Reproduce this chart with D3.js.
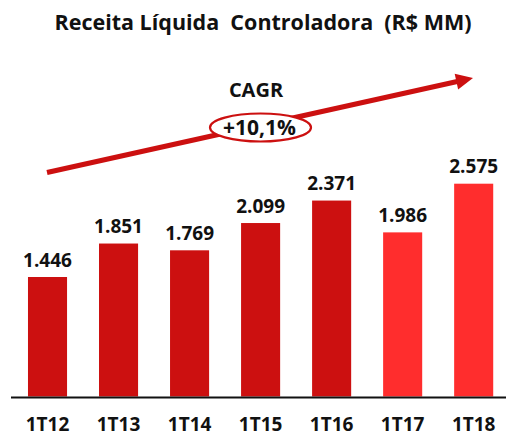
<!DOCTYPE html>
<html>
<head>
<meta charset="utf-8">
<script src="https://cdn.jsdelivr.net/npm/d3@7"></script>
<style>
  html, body { margin: 0; padding: 0; background: #fff; }
  svg text { font-family: "Open Sans", Lato, sans-serif; font-weight: bold; fill: #111; white-space: pre; }
</style>
</head>
<body>
<div id="chart"></div>
<script>
const categories = ['1T12', '1T13', '1T14', '1T15', '1T16', '1T17', '1T18'];
const values = [1446, 1851, 1769, 2099, 2371, 1986, 2575];
const valueLabels = ['1.446', '1.851', '1.769', '2.099', '2.371', '1.986', '2.575'];
const highlighted = ['1T17', '1T18'];
const titleText = 'Receita Líquida  Controladora  (R$ MM)';
const cagrLabel = 'CAGR';
const cagrValue = '+10,1%';

const width = 506;
const height = 437;
const baseline = 396.5;

const svg = d3.select('#chart').append('svg')
  .attr('width', width)
  .attr('height', height);

const x = d3.scaleBand()
  .domain(categories)
  .range([12, 509.2])
  .paddingInner(0.45)
  .paddingOuter(0.225);

const y = d3.scaleLinear()
  .domain([0, 2575])
  .range([baseline, 183.7]);

// title
svg.append('text')
  .attr('x', 263)
  .attr('y', 30)
  .attr('text-anchor', 'middle')
  .style('font-size', '21.5px')
  .text(titleText);

// bars
svg.selectAll('rect.bar')
    .data(categories)
    .enter()
  .append('rect')
    .attr('class', 'bar')
    .attr('x', d => x(d))
    .attr('y', (d, i) => y(values[i]))
    .attr('width', x.bandwidth())
    .attr('height', (d, i) => baseline - y(values[i]))
    .attr('fill', d => highlighted.includes(d) ? '#FF2D2D' : '#CC1010');

// value labels
svg.selectAll('text.value')
    .data(categories)
    .enter()
  .append('text')
    .attr('class', 'value')
    .attr('x', d => x(d) + x.bandwidth() / 2)
    .attr('y', (d, i) => y(values[i]) - 10.5)
    .attr('text-anchor', 'middle')
    .style('font-size', '19px')
    .text((d, i) => valueLabels[i]);

// baseline
svg.append('line')
  .attr('x1', 11)
  .attr('x2', width)
  .attr('y1', 397.5)
  .attr('y2', 397.5)
  .attr('stroke', '#111')
  .attr('stroke-width', 2);

// category axis
const xAxis = svg.append('g')
  .attr('transform', `translate(0,${baseline})`)
  .call(d3.axisBottom(x).tickSize(0).tickPadding(21));
xAxis.select('.domain').remove();
xAxis.selectAll('text')
  .style('font-size', '19px')
  .style('font-family', '"Open Sans", Lato, sans-serif')
  .attr('fill', '#111');

// CAGR arrow
const arrowStart = [47, 172.5];
const arrowEnd = [473, 78];
const angle = Math.atan2(arrowEnd[1] - arrowStart[1], arrowEnd[0] - arrowStart[0]);
const headLen = 17;
const headHalf = 8;
const baseX = arrowEnd[0] - headLen * Math.cos(angle);
const baseY = arrowEnd[1] - headLen * Math.sin(angle);

svg.append('line')
  .attr('x1', arrowStart[0])
  .attr('y1', arrowStart[1])
  .attr('x2', baseX + 2 * Math.cos(angle))
  .attr('y2', baseY + 2 * Math.sin(angle))
  .attr('stroke', '#CC1010')
  .attr('stroke-width', 5);

svg.append('path')
  .attr('d', d3.line()([
    arrowEnd,
    [baseX - headHalf * Math.sin(angle), baseY + headHalf * Math.cos(angle)],
    [baseX + headHalf * Math.sin(angle), baseY - headHalf * Math.cos(angle)]
  ]) + 'Z')
  .attr('fill', '#CC1010');

svg.append('text')
  .attr('x', 256)
  .attr('y', 97)
  .attr('text-anchor', 'middle')
  .style('font-size', '20px')
  .text(cagrLabel);

svg.append('ellipse')
  .attr('cx', 260.5)
  .attr('cy', 127.5)
  .attr('rx', 50.5)
  .attr('ry', 14)
  .attr('fill', '#fff')
  .attr('stroke', '#CC1010')
  .attr('stroke-width', 2.2);

svg.append('text')
  .attr('x', 259.5)
  .attr('y', 134.5)
  .attr('text-anchor', 'middle')
  .style('font-size', '21px')
  .text(cagrValue);
</script>
</body>
</html>
